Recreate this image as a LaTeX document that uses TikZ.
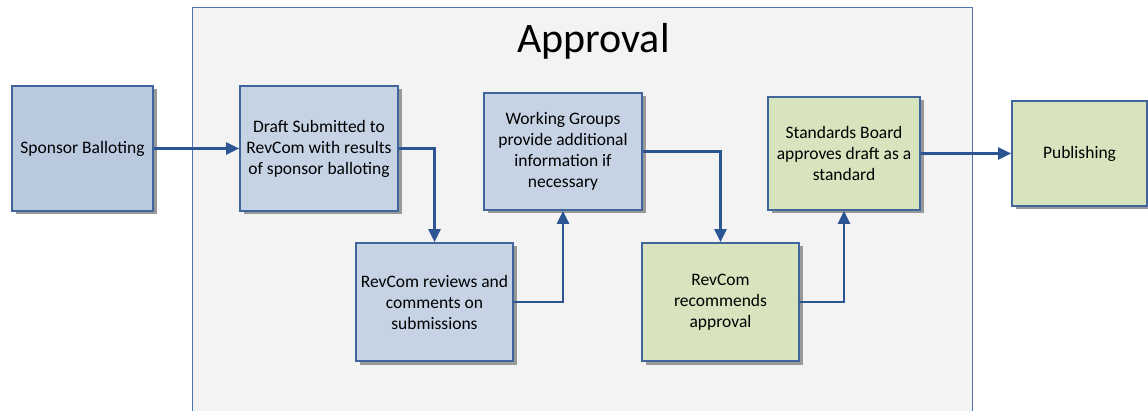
\documentclass[tikz,border=0pt]{standalone}
\usepackage{fontspec}
\setmainfont{Carlito}
\usetikzlibrary{arrows.meta,positioning,shadows}
\definecolor{boxline}{HTML}{3F659B}
\definecolor{bluefill}{HTML}{C5D3E5}
\definecolor{sponsfill}{HTML}{B9CADF}
\definecolor{greenfill}{HTML}{D7E4BD}
\definecolor{areafill}{HTML}{F3F3F3}
\definecolor{arealine}{HTML}{4F75AA}
\definecolor{flow}{HTML}{2B5592}

\begin{document}
\begin{tikzpicture}[
  x=1pt, y=-1pt,
  stage/.style={rectangle, draw=boxline, line width=1.7pt, align=center,
                inner sep=2pt, font=\fontsize{17.5}{21}\selectfont,
                drop shadow={shadow xshift=3.5pt, shadow yshift=-3.5pt,
                             fill=black!40, opacity=1}},
  bluestage/.style={stage, fill=bluefill},
  greenstage/.style={stage, fill=greenfill},
  flowline/.style={draw=flow, line width=2.2pt,
                   -{Triangle[length=13pt,width=12pt]}},
  >=Stealth
]
  \useasboundingbox (0,0) rectangle (1148,411);

  %--- Approval area ---
  \fill[areafill] (192.5,7.5) rectangle (972.5,411);
  \draw[arealine, line width=1.8pt] (192.5,411) -- (192.5,7.5) -- (972.5,7.5) -- (972.5,411);
  \node[anchor=base, font=\fontsize{42}{50}\selectfont] (title) at (593.5,52.7) {Approval};

  %--- Stages ---
  \node[stage, fill=sponsfill, minimum width=141pt, minimum height=125pt]
        (sponsor) at (82.5,148.5) {Sponsor Balloting};
  \node[bluestage, minimum width=158pt, minimum height=125pt]
        (draft) at (319,148.5) {Draft Submitted to\\RevCom with results\\of sponsor balloting};
  \node[bluestage, minimum width=157pt, minimum height=118pt]
        (reviews) at (434.5,302) {RevCom reviews and\\comments on\\submissions};
  \node[bluestage, minimum width=158pt, minimum height=117pt]
        (wgroups) at (563,151.5) {Working Groups\\provide additional\\information if\\necessary};
  \node[greenstage, minimum width=157pt, minimum height=118pt]
        (recommend) at (720.5,302) {RevCom\\recommends\\approval};
  \node[greenstage, minimum width=152pt, minimum height=113pt]
        (sboard) at (844,153.5) {Standards Board\\approves draft as a\\standard};
  \node[greenstage, minimum width=135pt, minimum height=105pt]
        (publish) at (1079.5,153.5) {Publishing};

  %--- Flow ---
  \draw[flowline] (sponsor.east) -- (draft.west);
  \draw[flowline] (draft.east) -| (reviews.north);
  \draw[flowline] (reviews.east) -| (wgroups.south);
  \draw[flowline] (wgroups.east) -| (recommend.north);
  \draw[flowline] (recommend.east) -| (sboard.south);
  \draw[flowline] (sboard.east) -- (publish.west);

\end{tikzpicture}
\end{document}
